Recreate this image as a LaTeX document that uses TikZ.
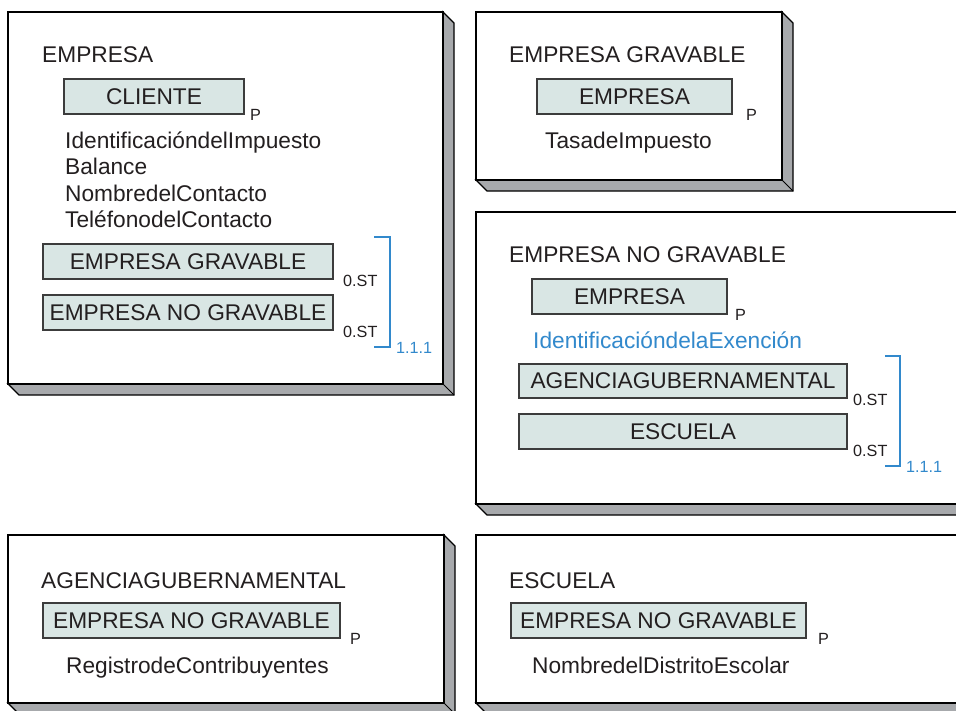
\documentclass[tikz,border=0pt]{standalone}
\usepackage{fontspec}
\setmainfont{Liberation Sans}
\definecolor{txt}{HTML}{231F20}
\definecolor{bluel}{HTML}{3289CC}
\definecolor{slabgray}{HTML}{A7A9AC}
\definecolor{boxfill}{HTML}{D9E6E4}
\definecolor{boxline}{HTML}{3C3C3C}
\newcommand\slab[4]{%
  \filldraw[slabside] (#1,#4) -- (#1+11,#4+11) -- (#3+11,#4+11) -- (#3+11,#2+11) -- (#3,#2) -- (#3,#4) -- cycle;
  \draw[slabedge] (#3,#4) -- (#3+11,#4+11);
  \filldraw[slabfront] (#1,#2) rectangle (#3,#4);
}
\begin{document}
\begin{tikzpicture}[x=1pt,y=-1pt,
  slabside/.style={fill=slabgray,draw=black,line width=1.3pt,line join=miter},
  slabedge/.style={draw=black,line width=1pt},
  slabfront/.style={fill=white,draw=black,line width=1.4pt},
  ebox/.style={rectangle,fill=boxfill,draw=boxline,line width=1.2pt,inner sep=0pt,
    text=txt,font=\fontsize{22.7}{27}\selectfont},
  lbl/.style={anchor=base west,inner sep=0pt,text=txt,font=\fontsize{22.7}{27}\selectfont},
  blbl/.style={lbl,text=bluel},
  sm/.style={anchor=base west,inner sep=0pt,text=txt,font=\fontsize{16.2}{19}\selectfont},
  bsm/.style={sm,text=bluel},
  bracket/.style={draw=bluel,line width=1.3pt}]
\useasboundingbox (0,0) rectangle (956,710);
\clip (0,0) rectangle (956,710);

% ---------- Box 1: EMPRESA
\slab{8}{12}{443}{384}
\node[lbl] (t1) at (42,62) {EMPRESA};
\node[ebox,minimum width=180,minimum height=35] (cli) at (154,96.5) {CLIENTE};
\node[sm] (p1) at (250,120) {P};
\node[lbl] (a1) at (65,148) {IdentificacióndelImpuesto};
\node[lbl] (a2) at (65,174.5) {Balance};
\node[lbl] (a3) at (65,201) {NombredelContacto};
\node[lbl] (a4) at (65,227.5) {TeléfonodelContacto};
\node[ebox,minimum width=290,minimum height=35] (eg1) at (188,261.5) {EMPRESA GRAVABLE};
\node[ebox,minimum width=290,minimum height=35] (eng1) at (188,312.5) {EMPRESA NO GRAVABLE};
\node[sm] (st1) at (343,286.5) {0.ST};
\node[sm] (st2) at (343,337.5) {0.ST};
\coordinate (b1a) at (374,237);
\coordinate (b1b) at (374,347);
\draw[bracket] (b1a) -- (390,237) -- (390,347) -- (b1b);
\node[bsm] (n1) at (396,353) {1.1.1};

% ---------- Box 2: EMPRESA GRAVABLE
\slab{476}{12}{782}{180}
\node[lbl] (t2) at (509,62) {EMPRESA GRAVABLE};
\node[ebox,minimum width=195,minimum height=35] (emp2) at (634.5,96.5) {EMPRESA};
\node[sm] (p2) at (746,120.5) {P};
\node[lbl] (a5) at (545,148) {TasadeImpuesto};

% ---------- Box 3: EMPRESA NO GRAVABLE
\slab{476}{212}{990}{504}
\node[lbl] (t3) at (509,262) {EMPRESA NO GRAVABLE};
\node[ebox,minimum width=195,minimum height=35] (emp3) at (629.5,296.5) {EMPRESA};
\node[sm] (p3) at (735,320) {P};
\node[blbl] (a6) at (533,348) {IdentificacióndelaExención};
\node[ebox,minimum width=328,minimum height=34] (ag3) at (683,381) {AGENCIAGUBERNAMENTAL};
\node[ebox,minimum width=328,minimum height=35] (esc3) at (683,431.5) {ESCUELA};
\node[sm] (st3) at (853,405.5) {0.ST};
\node[sm] (st4) at (853,456) {0.ST};
\coordinate (b2a) at (885,356);
\coordinate (b2b) at (885,466);
\draw[bracket] (b2a) -- (900,356) -- (900,466) -- (b2b);
\node[bsm] (n2) at (906,472) {1.1.1};

% ---------- Box 4: AGENCIAGUBERNAMENTAL
\slab{8}{535}{444}{703}
\node[lbl] (t4) at (41,588) {AGENCIAGUBERNAMENTAL};
\node[ebox,minimum width=297,minimum height=35] (eng4) at (191.5,620.5) {EMPRESA NO GRAVABLE};
\node[sm] (p4) at (350,644) {P};
\node[lbl] (a7) at (66,673) {RegistrodeContribuyentes};

% ---------- Box 5: ESCUELA
\slab{476}{535}{990}{703}
\node[lbl] (t5) at (509,588) {ESCUELA};
\node[ebox,minimum width=295,minimum height=35] (eng5) at (658.5,620.5) {EMPRESA NO GRAVABLE};
\node[sm] (p5) at (818,644) {P};
\node[lbl] (a8) at (532,673) {NombredelDistritoEscolar};
\end{tikzpicture}
\end{document}
